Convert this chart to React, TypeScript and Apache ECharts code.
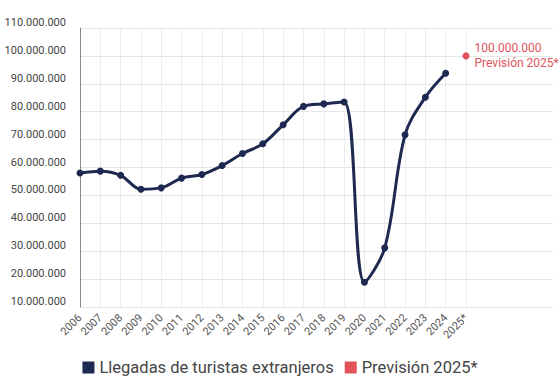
import React, { useEffect, useRef } from "react";
import * as echarts from "echarts";

const years = ["2006","2007","2008","2009","2010","2011","2012","2013","2014","2015","2016","2017","2018","2019","2020","2021","2022","2023","2024","2025*"];
const arrivals = [58000000,58700000,57200000,52200000,52700000,56200000,57500000,60700000,65000000,68500000,75300000,81900000,82800000,83500000,18900000,31200000,71700000,85200000,93800000,null];
const forecast = [null,null,null,null,null,null,null,null,null,null,null,null,null,null,null,null,null,null,null,100000000];
const seriesNames = ["Llegadas de turistas extranjeros", "Previsión 2025*"];
const yMin = 10000000;
const yMax = 110000000;
const yStep = 10000000;

const fmt = (v: number) => String(Math.round(v)).replace(/\B(?=(\d{3})+(?!\d))/g, ".");

const NAVY = "#1d2950";
const RED = "#e0535a";
const FONT = "Roboto";

export default function App() {
  const ref = useRef<HTMLDivElement>(null);
  useEffect(() => {
    const chart = echarts.init(ref.current!, null, { renderer: "svg" });
    chart.setOption({
      animation: false,
      textStyle: { fontFamily: FONT },
      grid: [
        { left: 80, right: 94, top: 28, bottom: 81 },
        { left: 80, right: 7, top: 28, bottom: 81 },
      ],
      legend: {
        bottom: 7,
        left: "center",
        icon: "rect",
        itemWidth: 12,
        itemHeight: 12,
        itemGap: 11,
        textStyle: { fontSize: 16.5, color: "#444", fontFamily: FONT },
        data: [
          { name: seriesNames[0], itemStyle: { color: NAVY } },
          { name: seriesNames[1], itemStyle: { color: RED } },
        ],
      },
      xAxis: [
        {
          type: "category",
          gridIndex: 0,
          data: years,
          boundaryGap: false,
          axisLine: { show: false },
          axisTick: { show: false },
          splitLine: { show: true, lineStyle: { color: "#ececec", width: 1 } },
          axisLabel: { rotate: 45, fontSize: 11, color: "#555", margin: 9, interval: 0, fontFamily: FONT },
        },
        { type: "value", gridIndex: 1, show: false, min: 0, max: 1 },
      ],
      yAxis: [
        {
          type: "value",
          gridIndex: 0,
          min: yMin,
          max: yMax,
          interval: yStep,
          axisLine: { show: true, lineStyle: { color: "#8a8a8a", width: 1 } },
          axisTick: { show: false },
          splitLine: { show: false },
          axisLabel: {
            formatter: (v: number) => fmt(v),
            fontSize: 11,
            color: "#444",
            margin: 14,
            verticalAlign: "bottom",
            fontFamily: FONT,
          },
        },
        {
          type: "value",
          gridIndex: 1,
          min: yMin,
          max: yMax,
          interval: yStep,
          axisLine: { show: false },
          axisTick: { show: false },
          axisLabel: { show: false },
          splitLine: { show: true, lineStyle: { color: "#e6e6e6", width: 1 } },
        },
      ],
      series: [
        {
          name: seriesNames[0],
          type: "line",
          xAxisIndex: 0,
          yAxisIndex: 0,
          data: arrivals,
          smooth: 0.35,
          symbol: "circle",
          symbolSize: 7,
          lineStyle: { color: NAVY, width: 3 },
          itemStyle: { color: NAVY },
          z: 5,
        },
        {
          name: seriesNames[1],
          type: "line",
          xAxisIndex: 0,
          yAxisIndex: 0,
          data: forecast,
          symbol: "circle",
          symbolSize: 7,
          itemStyle: { color: RED },
          lineStyle: { color: RED },
          label: {
            show: true,
            position: "right",
            distance: 5,
            color: RED,
            fontSize: 12,
            lineHeight: 15,
            fontFamily: FONT,
            formatter: (p: any) => fmt(p.value) + "\n" + seriesNames[1],
          },
          z: 5,
        },
      ],
    });
    return () => chart.dispose();
  }, []);
  return (
    <div
      ref={ref}
      style={{ position: "absolute", left: 0, top: 0, width: 560, height: 388, background: "#fff" }}
    />
  );
}
